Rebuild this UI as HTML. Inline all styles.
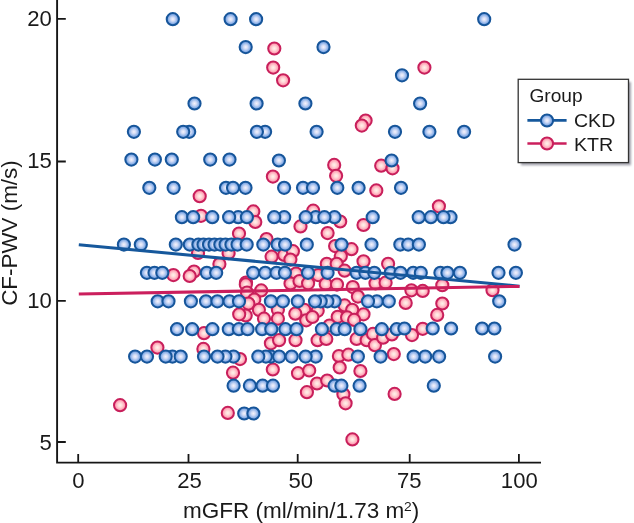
<!DOCTYPE html>
<html><head><meta charset="utf-8"><title>CF-PWV vs mGFR</title>
<style>
html,body{margin:0;padding:0;background:#fff;}
body{width:634px;height:523px;overflow:hidden;font-family:"Liberation Sans",sans-serif;}
svg{display:block;will-change:transform;}
text{font-family:"Liberation Sans",sans-serif;fill:#1a1a1a;}
.b{fill:url(#gb);stroke:#16559a;stroke-width:2.0;}
.r{fill:url(#gr);stroke:#c81f5b;stroke-width:2.0;}
.ax{stroke:#161616;stroke-width:1.9;fill:none;}
</style></head><body>
<svg width="634" height="523" viewBox="0 0 634 523">
<defs>
<radialGradient id="gb" cx="50%" cy="50%" r="50%">
<stop offset="0" stop-color="#f6f3fc"/><stop offset="0.35" stop-color="#cfdaf5"/><stop offset="0.7" stop-color="#8eb2e8"/><stop offset="1" stop-color="#5589d9"/>
</radialGradient>
<radialGradient id="gr" cx="50%" cy="50%" r="50%">
<stop offset="0" stop-color="#fff3ea"/><stop offset="0.35" stop-color="#ffd8d8"/><stop offset="0.7" stop-color="#ffa9ba"/><stop offset="1" stop-color="#fa7896"/>
</radialGradient>
<filter id="sh" x="-10%" y="-10%" width="130%" height="130%"><feGaussianBlur stdDeviation="1.2"/></filter>
</defs>
<rect width="634" height="523" fill="#fff"/>

<path class="ax" d="M57.1 0V462.6H541"/>
<path class="ax" style="stroke-width:1.8" d="M57.1 442.00H65.8M57.1 300.90H65.8M57.1 161.50H65.8M57.1 18.95H65.8M78.2 462.6V453.9M188.5 462.6V453.9M297.7 462.6V453.9M409.7 462.6V453.9M518.9 462.6V453.9"/>
<text x="51.9" y="450.1" font-size="22.1" text-anchor="end">5</text>
<text x="51.9" y="308.3" font-size="22.1" text-anchor="end">10</text>
<text x="51.9" y="168.2" font-size="22.1" text-anchor="end">15</text>
<text x="51.9" y="25.8" font-size="22.1" text-anchor="end">20</text>
<text x="78.40" y="487.6" font-size="22.1" text-anchor="middle">0</text>
<text x="189.50" y="487.6" font-size="22.1" text-anchor="middle">25</text>
<text x="300.70" y="487.6" font-size="22.1" text-anchor="middle">50</text>
<text x="409.35" y="487.6" font-size="22.1" text-anchor="middle">75</text>
<text x="519.30" y="487.6" font-size="22.1" text-anchor="middle">100</text>
<text x="183.0" y="518.4" font-size="22" textLength="236.3" lengthAdjust="spacingAndGlyphs">mGFR (ml/min/1.73 m<tspan font-size="13.5" dy="-7.6">2</tspan><tspan dy="7.6">)</tspan></text>
<text transform="translate(16.6 305.8) rotate(-90)" font-size="22" textLength="145.5" lengthAdjust="spacingAndGlyphs">CF-PWV (m/s)</text>
<g class="r">
<circle cx="274.3" cy="48.5" r="6.1"/>
<circle cx="273.2" cy="67.6" r="6.1"/>
<circle cx="283.1" cy="80.3" r="6.1"/>
<circle cx="424.4" cy="67.6" r="6.1"/>
<circle cx="365.6" cy="120.5" r="6.1"/>
<circle cx="361.8" cy="125.6" r="6.1"/>
<circle cx="199.7" cy="196.2" r="6.1"/>
<circle cx="272.9" cy="176.6" r="6.1"/>
<circle cx="334.2" cy="164.9" r="6.1"/>
<circle cx="336.1" cy="175.8" r="6.1"/>
<circle cx="381.2" cy="165.7" r="6.1"/>
<circle cx="392.5" cy="168.3" r="6.1"/>
<circle cx="376.3" cy="190.4" r="6.1"/>
<circle cx="201.0" cy="215.8" r="6.1"/>
<circle cx="253.3" cy="211.4" r="6.1"/>
<circle cx="255.3" cy="222.0" r="6.1"/>
<circle cx="300.5" cy="226.4" r="6.1"/>
<circle cx="313.2" cy="210.7" r="6.1"/>
<circle cx="340.2" cy="221.5" r="6.1"/>
<circle cx="363.5" cy="225.0" r="6.1"/>
<circle cx="327.6" cy="233.1" r="6.1"/>
<circle cx="438.9" cy="206.3" r="6.1"/>
<circle cx="239.0" cy="233.5" r="6.1"/>
<circle cx="266.5" cy="239.1" r="6.1"/>
<circle cx="198.0" cy="253.0" r="6.1"/>
<circle cx="228.6" cy="253.1" r="6.1"/>
<circle cx="271.6" cy="256.7" r="6.1"/>
<circle cx="284.2" cy="254.9" r="6.1"/>
<circle cx="292.9" cy="251.2" r="6.1"/>
<circle cx="290.4" cy="259.6" r="6.1"/>
<circle cx="335.1" cy="246.1" r="6.1"/>
<circle cx="351.5" cy="249.2" r="6.1"/>
<circle cx="340.8" cy="256.2" r="6.1"/>
<circle cx="326.8" cy="263.8" r="6.1"/>
<circle cx="336.7" cy="263.8" r="6.1"/>
<circle cx="363.5" cy="261.3" r="6.1"/>
<circle cx="388.1" cy="263.8" r="6.1"/>
<circle cx="173.4" cy="275.1" r="6.1"/>
<circle cx="194.0" cy="271.5" r="6.1"/>
<circle cx="189.7" cy="276.0" r="6.1"/>
<circle cx="219.4" cy="264.1" r="6.1"/>
<circle cx="246.0" cy="282.6" r="6.1"/>
<circle cx="296.0" cy="273.5" r="6.1"/>
<circle cx="290.5" cy="283.5" r="6.1"/>
<circle cx="299.5" cy="281.0" r="6.1"/>
<circle cx="245.8" cy="284.4" r="6.1"/>
<circle cx="247.0" cy="292.6" r="6.1"/>
<circle cx="261.2" cy="290.4" r="6.1"/>
<circle cx="308.1" cy="283.3" r="6.1"/>
<circle cx="318.2" cy="275.1" r="6.1"/>
<circle cx="254.3" cy="299.5" r="6.1"/>
<circle cx="248.4" cy="303.6" r="6.1"/>
<circle cx="258.9" cy="309.8" r="6.1"/>
<circle cx="245.7" cy="315.5" r="6.1"/>
<circle cx="264.0" cy="318.7" r="6.1"/>
<circle cx="277.9" cy="309.8" r="6.1"/>
<circle cx="277.9" cy="318.7" r="6.1"/>
<circle cx="304.3" cy="309.8" r="6.1"/>
<circle cx="295.3" cy="313.7" r="6.1"/>
<circle cx="317.7" cy="310.8" r="6.1"/>
<circle cx="306.2" cy="320.3" r="6.1"/>
<circle cx="312.4" cy="317.0" r="6.1"/>
<circle cx="344.6" cy="270.7" r="6.1"/>
<circle cx="325.7" cy="284.0" r="6.1"/>
<circle cx="337.0" cy="284.6" r="6.1"/>
<circle cx="352.8" cy="287.1" r="6.1"/>
<circle cx="375.5" cy="283.3" r="6.1"/>
<circle cx="385.6" cy="282.7" r="6.1"/>
<circle cx="357.9" cy="296.6" r="6.1"/>
<circle cx="344.6" cy="305.4" r="6.1"/>
<circle cx="352.2" cy="309.8" r="6.1"/>
<circle cx="363.5" cy="314.3" r="6.1"/>
<circle cx="337.7" cy="316.8" r="6.1"/>
<circle cx="347.1" cy="317.4" r="6.1"/>
<circle cx="354.1" cy="319.9" r="6.1"/>
<circle cx="411.4" cy="290.3" r="6.1"/>
<circle cx="422.7" cy="290.9" r="6.1"/>
<circle cx="442.3" cy="285.2" r="6.1"/>
<circle cx="405.7" cy="302.9" r="6.1"/>
<circle cx="442.3" cy="303.5" r="6.1"/>
<circle cx="437.2" cy="314.9" r="6.1"/>
<circle cx="492.5" cy="290.2" r="6.1"/>
<circle cx="239.2" cy="314.3" r="6.1"/>
<circle cx="204.0" cy="333.2" r="6.1"/>
<circle cx="157.4" cy="347.6" r="6.1"/>
<circle cx="203.4" cy="348.9" r="6.1"/>
<circle cx="233.0" cy="372.7" r="6.1"/>
<circle cx="270.9" cy="343.3" r="6.1"/>
<circle cx="279.1" cy="340.2" r="6.1"/>
<circle cx="295.5" cy="340.2" r="6.1"/>
<circle cx="317.6" cy="340.2" r="6.1"/>
<circle cx="240.0" cy="359.1" r="6.1"/>
<circle cx="272.8" cy="369.5" r="6.1"/>
<circle cx="298.0" cy="373.2" r="6.1"/>
<circle cx="309.2" cy="370.5" r="6.1"/>
<circle cx="317.0" cy="383.5" r="6.1"/>
<circle cx="326.3" cy="338.9" r="6.1"/>
<circle cx="356.6" cy="338.9" r="6.1"/>
<circle cx="366.7" cy="340.2" r="6.1"/>
<circle cx="373.0" cy="333.9" r="6.1"/>
<circle cx="374.9" cy="345.2" r="6.1"/>
<circle cx="383.1" cy="337.7" r="6.1"/>
<circle cx="391.9" cy="334.5" r="6.1"/>
<circle cx="393.8" cy="354.1" r="6.1"/>
<circle cx="338.9" cy="356.0" r="6.1"/>
<circle cx="348.4" cy="354.7" r="6.1"/>
<circle cx="339.7" cy="367.5" r="6.1"/>
<circle cx="360.4" cy="371.0" r="6.1"/>
<circle cx="327.2" cy="380.5" r="6.1"/>
<circle cx="412.0" cy="335.1" r="6.1"/>
<circle cx="422.7" cy="328.8" r="6.1"/>
<circle cx="329.5" cy="325.5" r="6.1"/>
<circle cx="227.8" cy="412.9" r="6.1"/>
<circle cx="120.1" cy="405.2" r="6.1"/>
<circle cx="306.9" cy="392.2" r="6.1"/>
<circle cx="343.4" cy="394.3" r="6.1"/>
<circle cx="345.6" cy="403.3" r="6.1"/>
<circle cx="394.6" cy="393.9" r="6.1"/>
<circle cx="352.4" cy="439.4" r="6.1"/>
</g><g class="b">
<circle cx="172.8" cy="19.2" r="6.1"/>
<circle cx="230.6" cy="19.2" r="6.1"/>
<circle cx="256.1" cy="19.2" r="6.1"/>
<circle cx="484.2" cy="19.2" r="6.1"/>
<circle cx="245.7" cy="47.1" r="6.1"/>
<circle cx="323.5" cy="47.1" r="6.1"/>
<circle cx="402.0" cy="75.3" r="6.1"/>
<circle cx="194.5" cy="103.5" r="6.1"/>
<circle cx="256.6" cy="103.5" r="6.1"/>
<circle cx="305.4" cy="103.5" r="6.1"/>
<circle cx="420.1" cy="103.5" r="6.1"/>
<circle cx="133.9" cy="131.8" r="6.1"/>
<circle cx="189.2" cy="131.8" r="6.1"/>
<circle cx="183.2" cy="131.8" r="6.1"/>
<circle cx="265.1" cy="131.8" r="6.1"/>
<circle cx="256.9" cy="131.8" r="6.1"/>
<circle cx="316.6" cy="131.8" r="6.1"/>
<circle cx="395.0" cy="131.8" r="6.1"/>
<circle cx="429.4" cy="131.8" r="6.1"/>
<circle cx="464.1" cy="131.8" r="6.1"/>
<circle cx="131.4" cy="159.6" r="6.1"/>
<circle cx="154.9" cy="159.6" r="6.1"/>
<circle cx="171.8" cy="159.6" r="6.1"/>
<circle cx="210.2" cy="159.6" r="6.1"/>
<circle cx="229.5" cy="159.6" r="6.1"/>
<circle cx="278.9" cy="160.5" r="6.1"/>
<circle cx="391.6" cy="160.5" r="6.1"/>
<circle cx="149.3" cy="187.8" r="6.1"/>
<circle cx="173.6" cy="187.8" r="6.1"/>
<circle cx="226.0" cy="187.8" r="6.1"/>
<circle cx="233.0" cy="187.8" r="6.1"/>
<circle cx="245.5" cy="187.8" r="6.1"/>
<circle cx="284.1" cy="187.8" r="6.1"/>
<circle cx="303.0" cy="187.8" r="6.1"/>
<circle cx="313.0" cy="187.8" r="6.1"/>
<circle cx="337.3" cy="187.8" r="6.1"/>
<circle cx="358.6" cy="187.8" r="6.1"/>
<circle cx="401.0" cy="187.8" r="6.1"/>
<circle cx="181.9" cy="217.2" r="6.1"/>
<circle cx="193.2" cy="217.2" r="6.1"/>
<circle cx="212.3" cy="217.2" r="6.1"/>
<circle cx="238.2" cy="217.2" r="6.1"/>
<circle cx="229.1" cy="217.2" r="6.1"/>
<circle cx="246.9" cy="217.2" r="6.1"/>
<circle cx="284.2" cy="217.2" r="6.1"/>
<circle cx="274.2" cy="217.2" r="6.1"/>
<circle cx="315.7" cy="217.2" r="6.1"/>
<circle cx="305.7" cy="217.2" r="6.1"/>
<circle cx="334.5" cy="217.2" r="6.1"/>
<circle cx="324.4" cy="217.2" r="6.1"/>
<circle cx="372.7" cy="217.2" r="6.1"/>
<circle cx="418.7" cy="217.2" r="6.1"/>
<circle cx="430.9" cy="217.2" r="6.1"/>
<circle cx="450.5" cy="217.2" r="6.1"/>
<circle cx="443.5" cy="217.2" r="6.1"/>
<circle cx="123.9" cy="244.6" r="6.1"/>
<circle cx="140.8" cy="244.6" r="6.1"/>
<circle cx="175.8" cy="244.6" r="6.1"/>
<circle cx="189.8" cy="244.6" r="6.1"/>
<circle cx="198.4" cy="244.6" r="6.1"/>
<circle cx="203.5" cy="244.6" r="6.1"/>
<circle cx="209.0" cy="244.6" r="6.1"/>
<circle cx="214.5" cy="244.6" r="6.1"/>
<circle cx="220.3" cy="244.6" r="6.1"/>
<circle cx="225.5" cy="244.6" r="6.1"/>
<circle cx="231.4" cy="244.6" r="6.1"/>
<circle cx="237.5" cy="244.6" r="6.1"/>
<circle cx="246.7" cy="244.6" r="6.1"/>
<circle cx="263.3" cy="244.6" r="6.1"/>
<circle cx="277.6" cy="244.6" r="6.1"/>
<circle cx="285.1" cy="244.6" r="6.1"/>
<circle cx="306.8" cy="244.6" r="6.1"/>
<circle cx="341.5" cy="244.6" r="6.1"/>
<circle cx="371.5" cy="244.6" r="6.1"/>
<circle cx="400.3" cy="244.6" r="6.1"/>
<circle cx="408.2" cy="244.6" r="6.1"/>
<circle cx="418.9" cy="244.6" r="6.1"/>
<circle cx="514.5" cy="244.6" r="6.1"/>
<circle cx="146.9" cy="272.8" r="6.1"/>
<circle cx="154.5" cy="272.8" r="6.1"/>
<circle cx="162.3" cy="272.8" r="6.1"/>
<circle cx="206.8" cy="272.8" r="6.1"/>
<circle cx="216.2" cy="272.8" r="6.1"/>
<circle cx="253.1" cy="272.8" r="6.1"/>
<circle cx="265.2" cy="272.8" r="6.1"/>
<circle cx="276.5" cy="272.8" r="6.1"/>
<circle cx="284.9" cy="272.8" r="6.1"/>
<circle cx="308.0" cy="272.8" r="6.1"/>
<circle cx="327.6" cy="272.8" r="6.1"/>
<circle cx="356.6" cy="272.8" r="6.1"/>
<circle cx="365.4" cy="272.8" r="6.1"/>
<circle cx="374.3" cy="272.8" r="6.1"/>
<circle cx="390.7" cy="272.8" r="6.1"/>
<circle cx="400.5" cy="272.8" r="6.1"/>
<circle cx="413.2" cy="272.8" r="6.1"/>
<circle cx="420.8" cy="272.8" r="6.1"/>
<circle cx="440.4" cy="272.8" r="6.1"/>
<circle cx="447.4" cy="272.8" r="6.1"/>
<circle cx="459.9" cy="272.8" r="6.1"/>
<circle cx="498.5" cy="272.8" r="6.1"/>
<circle cx="515.9" cy="272.8" r="6.1"/>
<circle cx="157.7" cy="301.3" r="6.1"/>
<circle cx="168.5" cy="301.3" r="6.1"/>
<circle cx="190.9" cy="301.3" r="6.1"/>
<circle cx="206.0" cy="301.3" r="6.1"/>
<circle cx="217.4" cy="301.3" r="6.1"/>
<circle cx="229.5" cy="301.3" r="6.1"/>
<circle cx="239.0" cy="301.3" r="6.1"/>
<circle cx="270.9" cy="301.3" r="6.1"/>
<circle cx="282.9" cy="301.3" r="6.1"/>
<circle cx="297.8" cy="301.3" r="6.1"/>
<circle cx="334.6" cy="301.3" r="6.1"/>
<circle cx="327.4" cy="301.3" r="6.1"/>
<circle cx="320.7" cy="301.3" r="6.1"/>
<circle cx="315.0" cy="301.3" r="6.1"/>
<circle cx="376.8" cy="301.3" r="6.1"/>
<circle cx="368.0" cy="301.3" r="6.1"/>
<circle cx="388.8" cy="301.3" r="6.1"/>
<circle cx="499.2" cy="301.3" r="6.1"/>
<circle cx="177.0" cy="329.2" r="6.1"/>
<circle cx="192.2" cy="329.2" r="6.1"/>
<circle cx="212.4" cy="329.2" r="6.1"/>
<circle cx="228.8" cy="329.2" r="6.1"/>
<circle cx="238.9" cy="329.2" r="6.1"/>
<circle cx="262.1" cy="329.2" r="6.1"/>
<circle cx="247.6" cy="329.2" r="6.1"/>
<circle cx="271.3" cy="329.2" r="6.1"/>
<circle cx="285.4" cy="329.2" r="6.1"/>
<circle cx="296.5" cy="329.2" r="6.1"/>
<circle cx="321.9" cy="329.2" r="6.1"/>
<circle cx="336.6" cy="329.2" r="6.1"/>
<circle cx="344.7" cy="329.2" r="6.1"/>
<circle cx="360.4" cy="329.2" r="6.1"/>
<circle cx="381.8" cy="329.2" r="6.1"/>
<circle cx="396.7" cy="329.2" r="6.1"/>
<circle cx="404.4" cy="328.5" r="6.1"/>
<circle cx="432.7" cy="328.5" r="6.1"/>
<circle cx="451.1" cy="328.5" r="6.1"/>
<circle cx="482.1" cy="328.5" r="6.1"/>
<circle cx="494.4" cy="328.5" r="6.1"/>
<circle cx="135.1" cy="356.6" r="6.1"/>
<circle cx="147.0" cy="356.6" r="6.1"/>
<circle cx="172.5" cy="356.6" r="6.1"/>
<circle cx="165.7" cy="356.6" r="6.1"/>
<circle cx="180.7" cy="356.6" r="6.1"/>
<circle cx="204.0" cy="356.6" r="6.1"/>
<circle cx="233.5" cy="356.6" r="6.1"/>
<circle cx="225.4" cy="356.6" r="6.1"/>
<circle cx="217.5" cy="356.6" r="6.1"/>
<circle cx="270.9" cy="356.6" r="6.1"/>
<circle cx="265.9" cy="356.6" r="6.1"/>
<circle cx="258.3" cy="356.6" r="6.1"/>
<circle cx="279.1" cy="356.6" r="6.1"/>
<circle cx="291.7" cy="356.6" r="6.1"/>
<circle cx="315.7" cy="356.6" r="6.1"/>
<circle cx="305.6" cy="356.6" r="6.1"/>
<circle cx="357.9" cy="356.6" r="6.1"/>
<circle cx="380.6" cy="356.6" r="6.1"/>
<circle cx="425.2" cy="356.6" r="6.1"/>
<circle cx="413.6" cy="356.6" r="6.1"/>
<circle cx="439.1" cy="356.6" r="6.1"/>
<circle cx="495.1" cy="356.6" r="6.1"/>
<circle cx="233.6" cy="385.7" r="6.1"/>
<circle cx="249.9" cy="385.7" r="6.1"/>
<circle cx="262.6" cy="385.7" r="6.1"/>
<circle cx="273.0" cy="385.7" r="6.1"/>
<circle cx="334.6" cy="385.7" r="6.1"/>
<circle cx="341.4" cy="385.7" r="6.1"/>
<circle cx="359.6" cy="385.7" r="6.1"/>
<circle cx="433.8" cy="385.7" r="6.1"/>
<circle cx="244.2" cy="413.5" r="6.1"/>
<circle cx="253.4" cy="413.5" r="6.1"/>
</g>
<path d="M78.8 244.7L519.5 286.2" stroke="#16589c" stroke-width="3.05" fill="none"/>
<path d="M78.8 293.9L519.5 286.4" stroke="#cb1f5d" stroke-width="3.05" fill="none"/>
<rect x="521" y="82" width="110" height="83.3" fill="#a2a2ac" filter="url(#sh)"/>
<rect x="518.2" y="79.3" width="110.3" height="83.3" fill="#fff" stroke="#333" stroke-width="1.3"/>
<text x="529.4" y="102.0" font-size="19" textLength="53.2" lengthAdjust="spacingAndGlyphs">Group</text>
<path d="M527.4 120.4H566.6" stroke="#16589c" stroke-width="2.6"/>
<circle class="b" cx="547.0" cy="120.5" r="6.1"/>
<path d="M527.4 143.5H566.6" stroke="#cb1f5d" stroke-width="2.6"/>
<circle class="r" cx="547.0" cy="143.5" r="6.1"/>
<text x="574" y="127.1" font-size="19.2" textLength="41.3" lengthAdjust="spacingAndGlyphs">CKD</text>
<text x="574" y="151.0" font-size="19.2" textLength="39.3" lengthAdjust="spacingAndGlyphs">KTR</text>
</svg></body></html>
